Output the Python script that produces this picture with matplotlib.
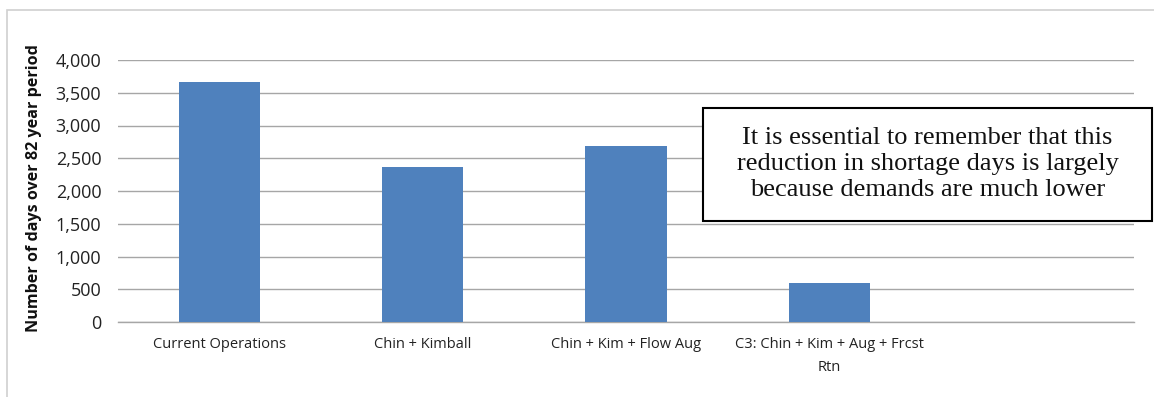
import matplotlib
matplotlib.use("Agg")
import matplotlib.pyplot as plt
from matplotlib.patches import Rectangle
from matplotlib.ticker import FuncFormatter

categories = [
    "Current Operations",
    "Chin + Kimball",
    "Chin + Kim + Flow Aug",
    "C3: Chin + Kim + Aug + Frcst\nRtn",
    "",
]
shortage_days = [3665, 2366, 2687, 592, 0]
y_ticks = [0, 500, 1000, 1500, 2000, 2500, 3000, 3500, 4000]
y_label = "Number of days over 82 year period"
note = ("It is essential to remember that this\n"
        "reduction in shortage days is largely\n"
        "because demands are much lower")

W, H = 1154, 397
fig = plt.figure(figsize=(W / 100, H / 100), dpi=100)
fig.patch.set_facecolor("white")

# chart-area frame
fig.patches.append(Rectangle((7 / W, -0.05), 1.2, (H - 9.5) / H + 0.05,
                             transform=fig.transFigure, fill=False,
                             edgecolor="#D0D0D0", linewidth=1.2))

ax = fig.add_axes([118 / W, 1 - 322 / H, (1134 - 118) / W, (322 - 60) / H])
x = range(len(categories))
vals = [v if v > 0 else float("nan") for v in shortage_days]
ax.bar(x, vals, width=0.4, color="#4F81BD", zorder=3)

ax.set_xlim(-0.5, len(categories) - 0.5)
ax.set_ylim(0, 4000)
ax.set_yticks(y_ticks)
ax.yaxis.set_major_formatter(FuncFormatter(lambda v, p: f"{int(v):,}"))
ax.grid(axis="y", color="#A6A6A6", linewidth=1.0, zorder=0)
for s in ["top", "right", "left"]:
    ax.spines[s].set_visible(False)
ax.spines["bottom"].set_color("#A6A6A6")
ax.spines["bottom"].set_linewidth(1.0)
ax.tick_params(axis="both", length=0)
ax.tick_params(axis="y", pad=12, labelsize=13, labelcolor="#222222")
ax.set_xticks(list(x))
ax.set_xticklabels(categories, fontsize=10.5, color="#222222",
                   linespacing=1.7)
ax.tick_params(axis="x", pad=11)
for lbl in ax.get_yticklabels() + ax.get_xticklabels():
    lbl.set_fontfamily(["Open Sans", "DejaVu Sans"])

fig.text(34 / W, 1 - 188 / H, y_label, rotation=90, ha="center", va="center",
         fontsize=11.6, fontweight="bold", color="#111111",
         family=["Open Sans", "DejaVu Sans"])

# annotation box
bx0, by0, bx1, by1 = 703, 108, 1152, 221
fig.patches.append(Rectangle((bx0 / W, 1 - by1 / H), (bx1 - bx0) / W,
                             (by1 - by0) / H, transform=fig.transFigure,
                             facecolor="white", edgecolor="black",
                             linewidth=1.5, zorder=5))
fig.text((bx0 + bx1) / 2 / W, 1 - 164 / H, note,
         ha="center", va="center", fontsize=19, linespacing=1.25,
         family="Liberation Serif", color="#111111", zorder=6)

fig.savefig("out.png", dpi=100)
